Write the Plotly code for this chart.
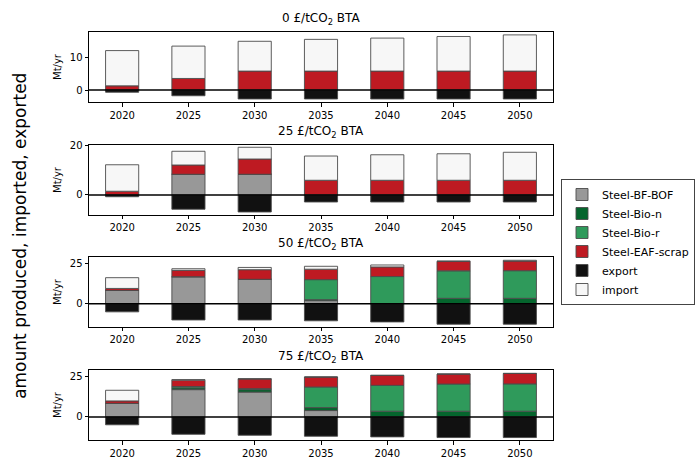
import plotly.graph_objects as go

years = ["2020", "2025", "2030", "2035", "2040", "2045", "2050"]
scenarios = ["0", "25", "50", "75"]

# Production by route, imports and exports (Mt/yr), one list per carbon price scenario
bf_bof = {
    "0":  [0, 0, 0, 0, 0, 0, 0],
    "25": [0, 8.3, 8.3, 0, 0, 0, 0],
    "50": [8.2, 16.6, 15.0, 1.9, 0, 0, 0],
    "75": [8.3, 16.7, 15.2, 3.9, 0, 0, 0],
}
bio_n = {
    "0":  [0, 0, 0, 0, 0, 0, 0],
    "25": [0, 0, 0, 0, 0, 0, 0],
    "50": [0, 0, 0, 0.6, 0, 3.3, 3.3],
    "75": [0, 1.1, 1.5, 1.8, 3.5, 3.5, 3.5],
}
bio_r = {
    "0":  [0, 0, 0, 0, 0, 0, 0],
    "25": [0, 0, 0, 0, 0, 0, 0],
    "50": [0, 0, 0, 12.3, 16.7, 16.9, 17.0],
    "75": [0, 0.8, 0.6, 12.6, 15.8, 16.6, 16.7],
}
eaf_scrap = {
    "0":  [1.3, 3.6, 5.9, 5.9, 5.9, 5.9, 5.9],
    "25": [1.5, 3.7, 6.1, 5.9, 5.9, 5.9, 5.9],
    "50": [1.2, 3.9, 5.9, 6.4, 5.9, 5.9, 5.9],
    "75": [1.5, 3.9, 5.9, 6.1, 6.1, 6.1, 6.4],
}
imports = {
    "0":  [11.0, 10.1, 9.3, 9.9, 10.3, 10.8, 11.3],
    "25": [10.6, 5.5, 4.7, 9.7, 10.2, 10.6, 11.2],
    "50": [6.6, 1.0, 1.4, 1.8, 1.2, 0, 0.5],
    "75": [6.5, 0.3, 0.2, 0, 0, 0, 0],
}
exports = {
    "0":  [-0.7, -1.8, -2.8, -2.8, -2.8, -2.8, -2.8],
    "25": [-0.7, -5.7, -6.8, -2.8, -2.8, -2.8, -2.8],
    "50": [-5.0, -10.0, -10.0, -10.5, -11.2, -12.6, -12.6],
    "75": [-4.8, -10.6, -11.2, -11.8, -12.2, -12.6, -12.6],
}

y_ranges = {"0": [-3.75, 18.1], "25": [-8.0, 20.0], "50": [-14.3, 28.7], "75": [-14.1, 28.7]}
y_ticks = {"0": [0, 10], "25": [0, 20], "50": [0, 25], "75": [0, 25]}
domains = [[0.8284, 1.0], [0.5515, 0.7230], [0.2770, 0.4485], [0.0, 0.1716]]

series = [
    ("Steel-BF-BOF", bf_bof, "#989898"),
    ("Steel-Bio-n", bio_n, "#05652d"),
    ("Steel-Bio-r", bio_r, "#2f9a5b"),
    ("Steel-EAF-scrap", eaf_scrap, "#be1a22"),
    ("export", exports, "#111111"),
    ("import", imports, "#f7f7f7"),
]

FONT = "DejaVu Sans"
fig = go.Figure()

for i, sc in enumerate(scenarios):
    n = i + 1
    xa = "x" if n == 1 else f"x{n}"
    ya = "y" if n == 1 else f"y{n}"
    for name, data, color in series:
        fig.add_trace(go.Bar(
            x=years, y=data[sc], name=name, legendgroup=name,
            showlegend=(n == 1), xaxis=xa, yaxis=ya,
            marker=dict(color=color, line=dict(color="rgba(75,75,75,0.9)", width=1)),
        ))

    axis_common = dict(showline=True, mirror=True, linecolor="black", linewidth=1,
                       ticks="outside", ticklen=3.5, tickwidth=1, tickcolor="black",
                       showgrid=False, zeroline=False, automargin=False,
                       tickfont=dict(family=FONT, size=10, color="black"))
    fig.update_layout({
        f"xaxis{'' if n == 1 else n}": dict(domain=[0, 1], anchor=ya, type="category",
                                             range=[-0.5, 6.5], **axis_common),
        f"yaxis{'' if n == 1 else n}": dict(domain=domains[i], anchor=xa, range=y_ranges[sc],
                                             tickvals=y_ticks[sc],
                                             title=dict(text="Mt/yr", standoff=6,
                                                        font=dict(family=FONT, size=10, color="black")),
                                             **axis_common),
    })
    # horizontal line at zero, drawn over the bars
    fig.add_shape(type="line", xref=f"{xa} domain", yref=ya, x0=0, x1=1, y0=0, y1=0,
                  line=dict(color="black", width=1.6), layer="above")
    # panel title
    fig.add_annotation(text=f"{sc} £/tCO<sub>2</sub> BTA", xref="paper", yref="paper",
                       x=0.5, y=domains[i][1], xanchor="center", yanchor="bottom",
                       yshift=3, showarrow=False,
                       font=dict(family=FONT, size=12, color="black"))

fig.add_annotation(text="amount produced, imported, exported", xref="paper", yref="paper",
                   x=-0.149, y=0.5, xanchor="center", yanchor="middle", textangle=-90,
                   showarrow=False, font=dict(family=FONT, size=17, color="black"))

fig.update_layout(
    width=699, height=458,
    margin=dict(l=89, r=146, t=32, b=18, autoexpand=False),
    barmode="relative", bargap=0.5,
    plot_bgcolor="white", paper_bgcolor="white",
    font=dict(family=FONT, color="black"),
    legend=dict(xref="container", yref="container", x=561 / 699, y=1 - 242 / 458,
                xanchor="left", yanchor="middle",
                traceorder="normal", bordercolor="#444444", borderwidth=1,
                bgcolor="white", font=dict(family=FONT, size=11, color="black"),
                itemwidth=30, tracegroupgap=0),
)

fig.write_html("out.html")
